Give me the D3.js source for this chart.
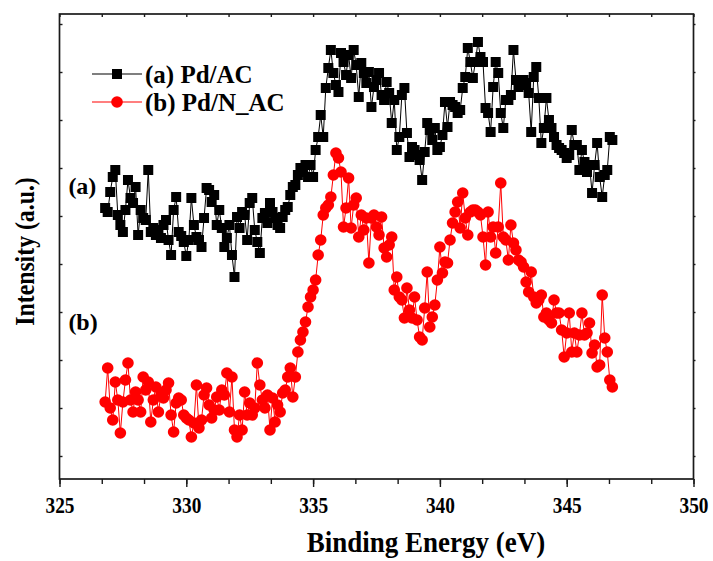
<!DOCTYPE html>
<html lang="en">
<head>
<meta charset="UTF-8" />
<title>XPS Pd 3d - Pd/AC vs Pd/N_AC</title>
<script src="https://d3js.org/d3.v7.min.js"></script>
<style>
  body {
    margin: 0;
    background: #fff;
  }
  svg {
    display: block;
  }
  text {
    font-family: "Liberation Serif", "Times New Roman", serif;
    font-weight: bold;
    fill: #000;
  }
  .frame {
    fill: none;
    stroke: #1a1a1a;
    stroke-width: 1.7px;
  }
  .axis path, .axis line {
    stroke: #1a1a1a;
    stroke-width: 1.4px;
  }
</style>
</head>
<body>

<svg width="713" height="561"></svg>

<script>
  const width = 713, height = 561;

  // binding energy grid (eV)
  const eStart = 326.8, eStep = 0.1;

  // (a) Pd/AC intensity, a.u.
  const pdAC = [
    271, 267,
    287, 302, 309, 264, 254, 247, 269, 299, 281, 276,
    292, 244, 269, 261, 259, 309, 247, 251, 244, 249,
    241, 254, 259, 239, 224, 269, 282, 247, 243, 237,
    223, 239, 281, 254, 242, 239, 232, 261, 291, 289,
    277, 284, 254, 269, 251, 232, 241, 254, 224, 202,
    262, 251, 267, 264, 239, 276, 281, 249, 237, 226,
    261, 266, 256, 276, 267, 261, 254, 251, 262, 269,
    272, 284, 292, 294, 304, 311, 307, 314, 302, 314,
    302, 329, 342, 364, 342, 391, 411, 429, 406, 394,
    387, 426, 417, 404, 424, 401, 429, 414, 382, 416,
    406, 396, 407, 372, 392, 399, 406, 384, 379, 397,
    386, 356, 379, 329, 342, 384, 391, 346, 322, 332,
    329, 324, 319, 299, 327, 356, 349, 339, 351, 329,
    332, 344, 377, 352, 377, 374, 372, 366, 369, 391,
    402, 431, 417, 401, 417, 437, 422, 417, 371, 366,
    347, 392, 417, 406, 366, 351, 379, 379, 384, 429,
    399, 392, 394, 399, 396, 386, 347, 402, 412, 381,
    336, 351, 381, 359, 351, 342, 334, 331, 329, 326,
    321, 324, 349, 334, 334, 309, 329, 317, 307, 314,
    286, 314, 336, 302, 282, 304, 309, 342, 339
  ];

  // (b) Pd/N_AC intensity, a.u.
  const pdNAC = [
    77, 111,
    71, 59, 97, 79, 46, 77, 99, 116, 79, 67,
    87, 79, 67, 102, 89, 97, 57, 79, 92, 67,
    84, 81, 89, 96, 64, 47, 76, 81, 79, 64,
    61, 59, 42, 56, 94, 51, 59, 84, 91, 74,
    61, 69, 82, 69, 89, 84, 106, 67, 102, 49,
    42, 64, 49, 87, 64, 76, 64, 71, 116, 94,
    79, 71, 84, 49, 81, 57, 74, 67, 86, 89,
    102, 111, 82, 102, 127, 139, 147, 157, 172, 182,
    189, 199, 224, 239, 264, 271, 274, 282, 304, 326,
    321, 307, 252, 271, 301, 251, 274, 281, 242, 264,
    249, 261, 216, 261, 264, 252, 244, 262, 231, 222,
    234, 242, 189, 202, 182, 179, 161, 191, 169, 161,
    182, 159, 142, 139, 171, 207, 152, 162, 174, 199,
    232, 206, 217, 216, 239, 256, 267, 277, 251, 286,
    261, 244, 267, 269, 269, 267, 264, 242, 214, 267,
    242, 252, 226, 252, 296, 242, 239, 219, 254, 236,
    229, 219, 217, 212, 197, 187, 207, 182, 176, 179,
    184, 162, 166, 159, 156, 179, 166, 166, 149, 122,
    146, 166, 127, 146, 127, 144, 166, 144, 146, 156,
    126, 134, 112, 114, 184, 141, 127, 99, 92
  ];

  const seriesNames = ["(a) Pd/AC", "(b) Pd/N_AC"];
  const seriesColors = ["#000000", "#ff0000"];
  const xMajor = [325, 330, 335, 340, 345, 350];
  const yTickStart = 23, yTickStep = 48;

  const margin = {top: 14, right: 19.5, bottom: 82, left: 59.5};

  const x = d3.scaleLinear()
    .domain([325, 350])
    .range([margin.left, width - margin.right]);

  const y = d3.scaleLinear()
    .domain([0, 465])
    .range([height - margin.bottom, margin.top]);

  const svg = d3.select("svg");

  const toPoints = vals => vals.map((v, i) => ({e: eStart + i * eStep, v}));
  const series = [
    {name: seriesNames[0], color: seriesColors[0], shape: "square", pts: toPoints(pdAC)},
    {name: seriesNames[1], color: seriesColors[1], shape: "circle", pts: toPoints(pdNAC)}
  ];

  const xMinor = d3.range(325, 350.01, 5 / 3);
  const yTicks = d3.range(yTickStart, 465, yTickStep);

  // bottom axis: major + minor ticks
  svg.append("g")
    .attr("class", "axis")
    .attr("transform", `translate(0,${y(0)})`)
    .call(d3.axisBottom(x).tickValues(xMinor).tickSize(5).tickFormat(""))
    .call(g => g.select(".domain").remove());

  svg.append("g")
    .attr("class", "axis")
    .attr("transform", `translate(0,${y(0)})`)
    .call(d3.axisBottom(x).tickValues(xMajor).tickSize(8).tickPadding(6).tickFormat(d3.format("d")))
    .call(g => g.select(".domain").remove())
    .call(g => g.selectAll("text")
      .attr("font-size", 21)
      .attr("dy", "0.85em")
      .attr("transform", "scale(0.92,1.08)"));

  // top axis: small inward ticks
  svg.append("g")
    .attr("class", "axis")
    .attr("transform", `translate(0,${y.range()[1]})`)
    .call(d3.axisTop(x).tickValues(xMinor).tickSize(-3).tickFormat(""))
    .call(g => g.select(".domain").remove());

  // left / right ticks
  svg.append("g")
    .attr("class", "axis")
    .attr("transform", `translate(${x(325)},0)`)
    .call(d3.axisLeft(y).tickValues(yTicks).tickSize(-3).tickFormat(""))
    .call(g => g.select(".domain").remove());

  svg.append("g")
    .attr("class", "axis")
    .attr("transform", `translate(${x(350)},0)`)
    .call(d3.axisRight(y).tickValues(yTicks).tickSize(2).tickFormat(""))
    .call(g => g.select(".domain").remove());

  svg.append("rect")
    .attr("class", "frame")
    .attr("x", x(325))
    .attr("y", y(465))
    .attr("width", x(350) - x(325))
    .attr("height", y(0) - y(465));

  // data
  const line = d3.line().x(d => x(d.e)).y(d => y(d.v));
  const sq = 10, rad = 5.8;

  series.forEach(s => {
    const g = svg.append("g");
    g.append("path")
      .datum(s.pts)
      .attr("fill", "none")
      .attr("stroke", s.color)
      .attr("stroke-width", 1)
      .attr("d", line);

    if (s.shape === "square") {
      g.selectAll("rect")
        .data(s.pts)
        .join("rect")
        .attr("x", d => x(d.e) - sq / 2)
        .attr("y", d => y(d.v) - sq / 2)
        .attr("width", sq)
        .attr("height", sq)
        .attr("fill", s.color);
    } else {
      g.selectAll("circle")
        .data(s.pts)
        .join("circle")
        .attr("cx", d => x(d.e))
        .attr("cy", d => y(d.v))
        .attr("r", rad)
        .attr("fill", s.color);
    }
  });

  // legend
  const legend = svg.append("g").attr("transform", "translate(92,74)");
  series.forEach((s, i) => {
    const row = legend.append("g").attr("transform", `translate(0,${i * 28})`);
    row.append("line")
      .attr("x1", 0).attr("x2", 50)
      .attr("stroke", s.color).attr("stroke-width", 1.2);
    if (s.shape === "square") {
      row.append("rect")
        .attr("x", 25 - sq / 2).attr("y", -sq / 2)
        .attr("width", sq).attr("height", sq)
        .attr("fill", s.color);
    } else {
      row.append("circle").attr("cx", 25).attr("r", rad).attr("fill", s.color);
    }
    row.append("text")
      .attr("x", 53)
      .attr("dy", "0.34em")
      .attr("font-size", 25)
      .text(s.name);
  });

  // curve labels
  svg.append("text")
    .attr("x", x(325.35))
    .attr("y", 194)
    .attr("font-size", 24)
    .text("(a)");
  svg.append("text")
    .attr("x", x(325.35))
    .attr("y", 330)
    .attr("font-size", 24)
    .text("(b)");

  // axis titles
  svg.append("text")
    .attr("transform", "translate(426,552) scale(1,1.08)")
    .attr("text-anchor", "middle")
    .attr("font-size", 27)
    .text("Binding Energy (eV)");

  svg.append("text")
    .attr("transform", `translate(34,${(y(0) + y(465)) / 2 + 5}) rotate(-90) scale(0.88,1)`)
    .attr("text-anchor", "middle")
    .attr("font-size", 27)
    .text("Intensity (a.u.)");
</script>

</body>
</html>
